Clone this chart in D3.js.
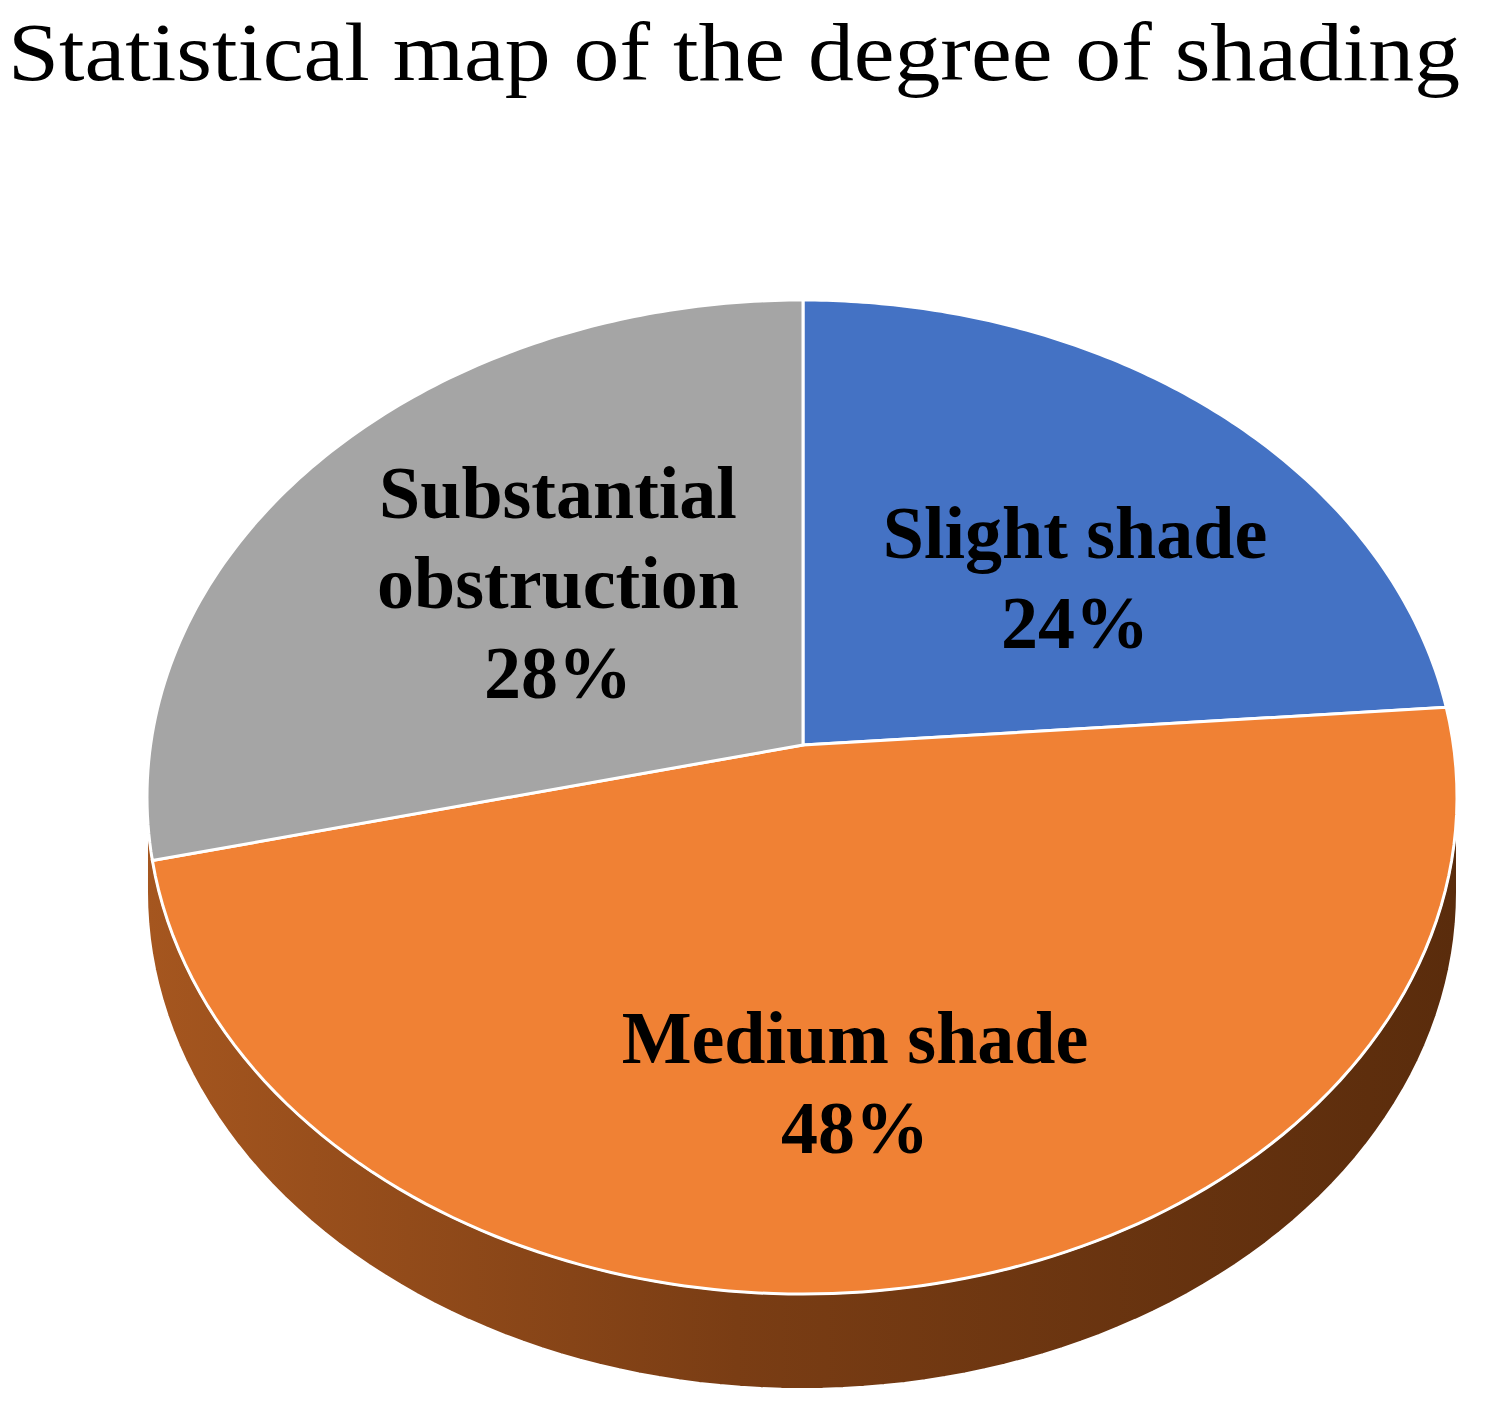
<!DOCTYPE html>
<html><head><meta charset="utf-8">
<script src="https://cdn.jsdelivr.net/npm/d3@7"></script>
<style>body{margin:0;background:#fff}</style>
</head><body><div id="chart"></div>
<script>
// data
var categories = ["Slight shade", "Medium shade", "Substantial obstruction"];
var values = [24, 48, 28];
var labelLines = [["Slight shade", "24%"], ["Medium shade", "48%"], ["Substantial", "obstruction", "28%"]];
var colors = ["#4472c4", "#f08134", "#a5a5a5"];

var svg = d3.select("#chart").append("svg").attr("width", 1489).attr("height", 1405);

svg.append("text").attr("x", 8).attr("y", 80)
    .attr("textLength", 1452).attr("lengthAdjust", "spacingAndGlyphs")
    .style("font-family", "Liberation Serif, DejaVu Serif, serif").style("font-size", "82px")
    .text("Statistical map of the degree of shading");

// ellipse geometry with the apex off-centre (perspective)
var cx = 802, cy = 797, rx = 655, ry = 497, depth = 95;
var vx = 803, vy = 745, tilt = 610;

// ray from apex in a tilted direction, intersected with the ellipse
function rim(theta) {
    var dx = Math.sin(theta) * rx, dy = -Math.cos(theta) * tilt;
    var ox = (vx - cx) / rx, oy = (vy - cy) / ry, ux = dx / rx, uy = dy / ry;
    var a = ux * ux + uy * uy, b = 2 * (ox * ux + oy * uy), c = ox * ox + oy * oy - 1;
    var t = (-b + Math.sqrt(b * b - 4 * a * c)) / (2 * a);
    return [vx + dx * t, vy + dy * t];
}

var pie = d3.pie().sort(null).value(d => d);
var arcs = pie(values);

// side wall
var grad = svg.append("defs").append("linearGradient").attr("id", "side");
grad.append("stop").attr("offset", "0%").attr("stop-color", "#a5561f");
grad.append("stop").attr("offset", "45%").attr("stop-color", "#7a3d14");
grad.append("stop").attr("offset", "100%").attr("stop-color", "#5a2c0c");
var sidePts = [];
for (var i = 0; i <= 100; i++) {
    var p = Math.PI * i / 100;
    sidePts.push([cx - Math.cos(p) * rx, cy + Math.sin(p) * ry]);
}
var bottomPts = sidePts.map(p => [p[0], p[1] + depth]).reverse();
svg.append("path").attr("d", d3.line()(sidePts.concat(bottomPts)) + "Z")
    .attr("fill", "url(#side)").attr("stroke", "#fff").attr("stroke-width", 2);

// top face slices
arcs.forEach(function(a, k) {
    var pts = [[vx, vy]];
    var n = 120;
    for (var i = 0; i <= n; i++) pts.push(rim(a.startAngle + (a.endAngle - a.startAngle) * i / n));
    svg.append("path").attr("d", d3.line()(pts) + "Z")
        .attr("fill", colors[k]).attr("stroke", "#fff").attr("stroke-width", 3);
});

// labels
var labelPos = [[1075, 558], [855, 1063], [558, 518]];
labelLines.forEach(function(lines, k) {
    var t = svg.append("text").attr("text-anchor", "middle")
        .style("font-family", "Liberation Serif, DejaVu Serif, serif")
        .style("font-size", "74px").style("font-weight", "bold").attr("fill", "#000");
    lines.forEach(function(l, j) {
        t.append("tspan").attr("x", labelPos[k][0]).attr("y", labelPos[k][1] + j * 90).text(l);
    });
});
</script></body></html>
